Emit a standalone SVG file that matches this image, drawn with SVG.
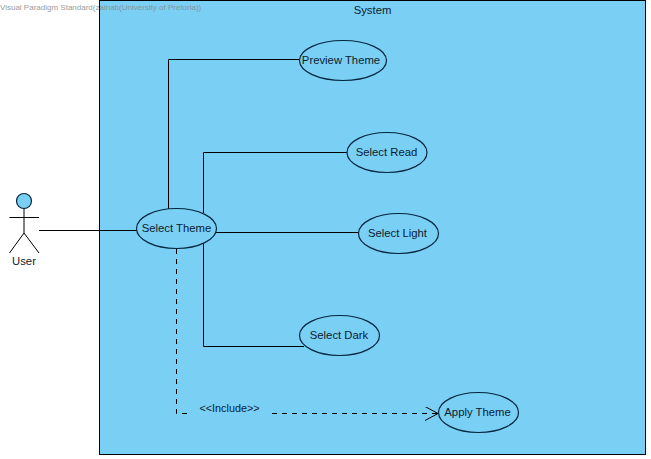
<svg xmlns="http://www.w3.org/2000/svg" width="651" height="459" viewBox="0 0 651 459">
<defs><marker id="open" markerUnits="userSpaceOnUse" markerWidth="16" markerHeight="16" refX="13" refY="7" orient="auto"><path d="M0 0L13 7L0 14" fill="none" stroke="#000" stroke-width="1"/></marker></defs>
<style>
text{font-family:"Liberation Sans",Arial,sans-serif;font-size:11.3px;fill:#0b2230;text-anchor:middle}
.uc ellipse{fill:#7acff5;stroke:#04263f;stroke-width:1.2}
.c{fill:none;stroke:#000;stroke-width:1}
.d{stroke-dasharray:5 5}
</style>
<rect width="651" height="459" fill="#fff"/>
<g id="system"><rect x="99.500" y="0.500" width="546" height="454" fill="#7acff5" stroke="#000"/><text x="372.500" y="14">System</text></g>
<g id="connectors">
<path class="c" d="M39 230.500H137"/>
<path class="c" d="M168.500 209V59.500H301"/>
<path class="c" d="M203.500 213V152.500H347"/>
<path class="c" d="M216 232.500H359"/>
<path class="c" d="M203.500 243V346.500H304"/>
<path class="c d" d="M176.500 249V413.500H189"/>
<path class="c d" d="M272 413.500H438" marker-end="url(#open)"/>
</g>
<g id="user">
<circle cx="24" cy="201" r="7.500" fill="#7acff5" stroke="#04263f" stroke-width="1.200"/>
<path class="c" d="M24 208.500V233M9.500 217.500H39M24 233L9.500 253M24 233L39 253"/>
<text x="24" y="265">User</text>
</g>
<g id="select-theme" class="uc"><ellipse cx="176.500" cy="228.500" rx="40" ry="20"/><text x="176.500" y="232">Select Theme</text></g>
<g id="preview-theme" class="uc"><ellipse cx="343" cy="60.500" rx="43.500" ry="20"/><text x="341" y="64">Preview Theme</text></g>
<g id="select-read" class="uc"><ellipse cx="387" cy="152.500" rx="40" ry="20"/><text x="386.500" y="156">Select Read</text></g>
<g id="select-light" class="uc"><ellipse cx="398.500" cy="233.500" rx="40" ry="20"/><text x="397.500" y="237">Select Light</text></g>
<g id="select-dark" class="uc"><ellipse cx="339.500" cy="335.500" rx="40" ry="20"/><text x="339" y="339">Select Dark</text></g>
<g id="apply-theme" class="uc"><ellipse cx="478.500" cy="412.500" rx="40" ry="20"/><text x="477.500" y="416">Apply Theme</text></g>
<text x="229.500" y="412" style="font-size:10.800px">&lt;&lt;Include&gt;&gt;</text>
<text x="0" y="10" style="font-size:8px;fill:#8a8a8a;opacity:.85;text-anchor:start">Visual Paradigm Standard(zainab(University of Pretoria))</text>
</svg>
